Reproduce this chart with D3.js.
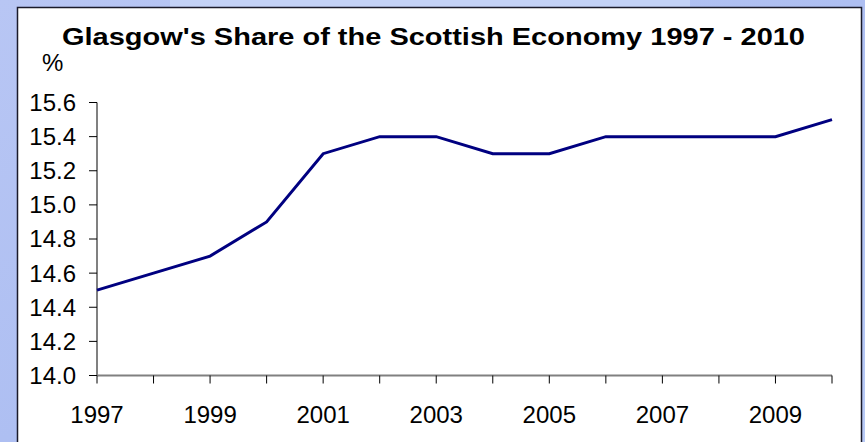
<!DOCTYPE html>
<html><head><meta charset="utf-8">
<script src="https://cdn.jsdelivr.net/npm/d3@7"></script>
<style>html,body{margin:0;padding:0;overflow:hidden;background:#b4c4f4;}</style>
</head><body>
<script>
const years = [1997,1998,1999,2000,2001,2002,2003,2004,2005,2006,2007,2008,2009,2010];
const shares = [14.5,14.6,14.7,14.9,15.3,15.4,15.4,15.3,15.3,15.4,15.4,15.4,15.4,15.5];
const yTicks = [14.0,14.2,14.4,14.6,14.8,15.0,15.2,15.4,15.6];
const xLabelYears = [1997,1999,2001,2003,2005,2007,2009];
const title = "Glasgow's Share of the Scottish Economy 1997 - 2010";
const unitLabel = "%";

const W = 865, H = 442;
const svg = d3.select("body").append("svg").attr("width", W).attr("height", H);
const defs = svg.append("defs");
const g1 = defs.append("linearGradient").attr("id","bg").attr("x1",0).attr("y1",0).attr("x2",1).attr("y2",1);
g1.append("stop").attr("offset","0%").attr("stop-color","#b8c6f4");
g1.append("stop").attr("offset","50%").attr("stop-color","#aebff2");
g1.append("stop").attr("offset","100%").attr("stop-color","#b8caf6");
svg.append("rect").attr("width",W).attr("height",H).attr("fill","url(#bg)");
svg.append("rect").attr("x",170).attr("y",0).attr("width",520).attr("height",8).attr("fill","#c8d6f8").attr("opacity",0.8);

// white panel
svg.append("rect").attr("x",17.5).attr("y",7.5).attr("width",844).attr("height",440)
  .attr("fill","#ffffff").attr("stroke","#1a1a2a").attr("stroke-width",1.5);

const x = d3.scaleLinear().domain([1997,2010]).range([97,832]);
const y = d3.scaleLinear().domain([14.0,15.6]).range([375.5,102.5]);

const font = "Arial, 'Liberation Sans', sans-serif";

// y axis
const ya = svg.append("g").attr("transform","translate(97,0)");
ya.append("line").attr("x1",0).attr("x2",0).attr("y1",y(15.6)).attr("y2",y(14.0)).attr("stroke","#808080").attr("stroke-width",2);
ya.selectAll("line.t").data(yTicks).join("line").attr("class","t")
  .attr("x1",-8).attr("x2",0).attr("y1",d=>y(d)).attr("y2",d=>y(d)).attr("stroke","#000").attr("stroke-width",1);
ya.selectAll("text").data(yTicks).join("text")
  .attr("x",-21).attr("y",d=>y(d)).attr("dy","0.35em").attr("text-anchor","end")
  .attr("font-family",font).attr("font-size",24).attr("fill","#000").text(d=>d.toFixed(1));

// x axis
const xa = svg.append("g");
xa.append("line").attr("x1",x(1997)).attr("x2",x(2010)).attr("y1",y(14.0)).attr("y2",y(14.0)).attr("stroke","#808080").attr("stroke-width",2);
xa.selectAll("line.t").data(years).join("line").attr("class","t")
  .attr("x1",d=>x(d)).attr("x2",d=>x(d)).attr("y1",y(14.0)).attr("y2",y(14.0)+8).attr("stroke","#000").attr("stroke-width",1);
xa.selectAll("text").data(xLabelYears).join("text")
  .attr("x",d=>x(d)).attr("y",y(14.0)+47).attr("text-anchor","middle")
  .attr("font-family",font).attr("font-size",24).attr("fill","#000").text(d=>d);

// line
const line = d3.line().x((d,i)=>x(years[i])).y(d=>y(d));
svg.append("path").datum(shares).attr("d",line).attr("fill","none")
  .attr("stroke","#000080").attr("stroke-width",3).attr("stroke-linejoin","miter");

// title
svg.append("text").attr("x",62).attr("y",45).attr("font-family",font).attr("font-weight","bold")
  .attr("font-size",23.5).attr("textLength",743).attr("lengthAdjust","spacingAndGlyphs").attr("fill","#000").text(title);
svg.append("text").attr("x",42).attr("y",70.5).attr("font-family",font).attr("font-size",24).attr("fill","#000").text(unitLabel);
</script>
</body></html>
